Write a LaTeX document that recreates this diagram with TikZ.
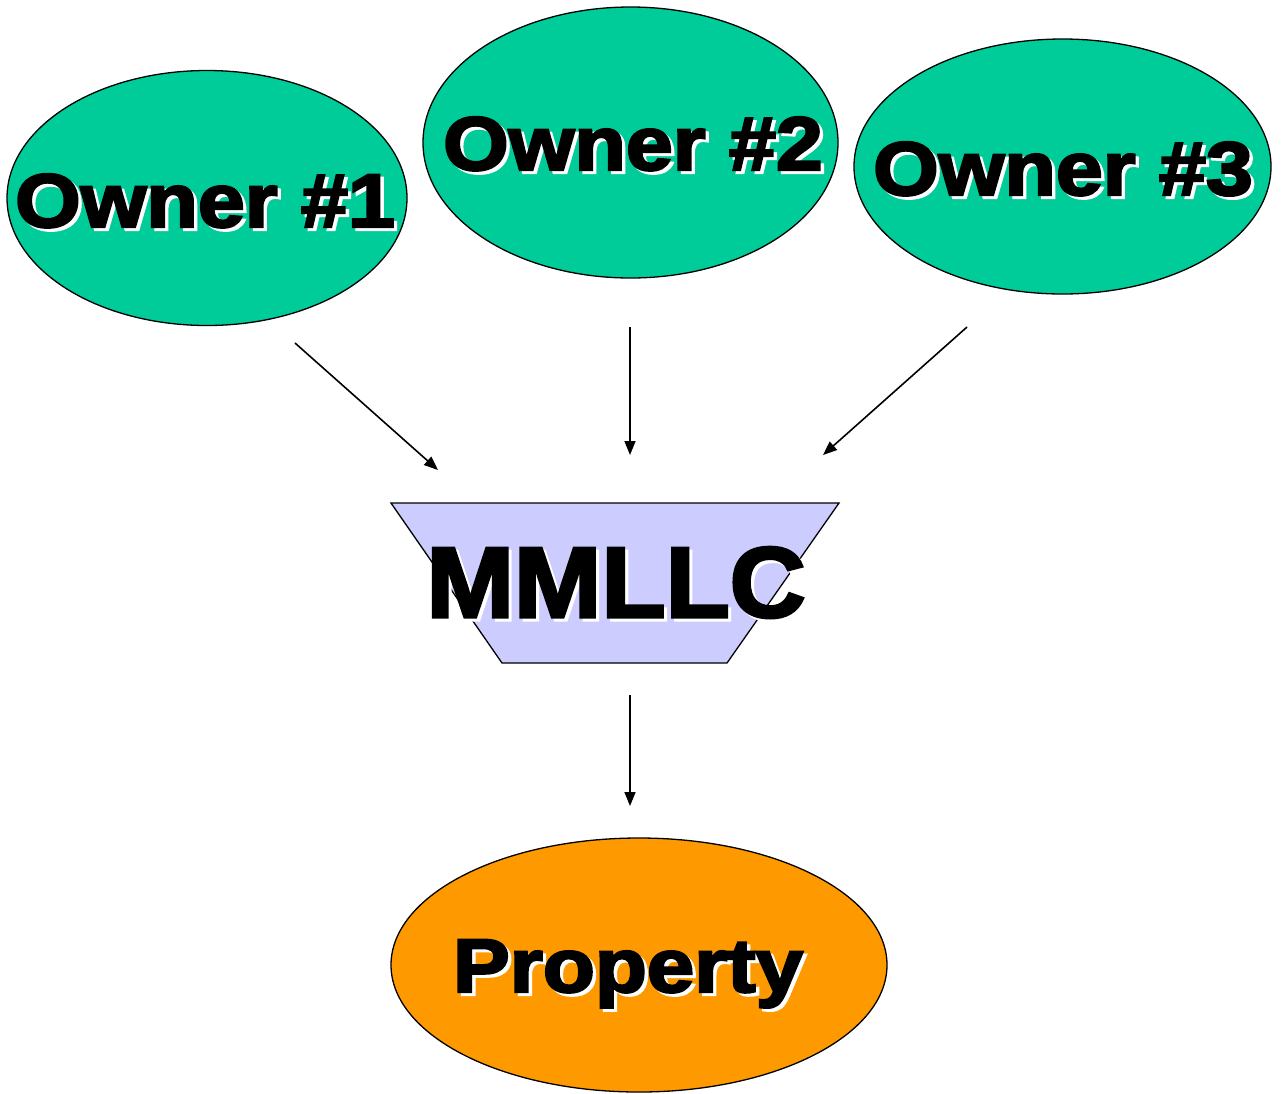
\documentclass[tikz,border=0pt]{standalone}
\usepackage{fontspec}
\setmainfont{Liberation Sans}[BoldFeatures={FakeBold=3}]
\usetikzlibrary{shapes.geometric,arrows.meta}
\definecolor{ownergreen}{RGB}{0,204,153}
\definecolor{llcblue}{RGB}{204,204,255}
\definecolor{proporange}{RGB}{255,153,0}
\tikzset{
  x=1pt, y=-1pt,
  blob/.style={ellipse, draw=black, line width=1.3pt, inner sep=0pt},
  link/.style={line width=1.6pt, -{Triangle[length=14pt,width=11pt]}},
  label text/.style={inner sep=0pt, anchor=base, font=\bfseries},
}
% heavy, slightly widened lettering with a white drop shadow
\newcommand\heavytext[3]{%
  \scalebox{#2}[1]{\fontsize{#1}{#1}\selectfont
    \rlap{\kern3pt\raisebox{-3pt}{\color{white}#3}}%
    #3}}
\begin{document}
\begin{tikzpicture}
\useasboundingbox (0,0) rectangle (1281,1093);

% owners
\node[blob, fill=ownergreen, minimum width=400, minimum height=255] (o1) at (207,198) {};
\node[blob, fill=ownergreen, minimum width=415, minimum height=271] (o2) at (630.5,142.5) {};
\node[blob, fill=ownergreen, minimum width=417, minimum height=255] (o3) at (1062.5,166.5) {};

% the company
\draw[fill=llcblue, line width=1.3pt] (391,503) -- (839,503) -- (727,663) -- (502,663) -- cycle;

% property
\node[blob, fill=proporange, minimum width=496, minimum height=254] (prop) at (639,965) {};

% labels
\node[label text] (l1) at (205,227) {\heavytext{76}{1.11}{Owner \#1}};
\node[label text] (l2) at (633,170) {\heavytext{76}{1.11}{Owner \#2}};
\node[label text] (l3) at (1063,195) {\heavytext{76}{1.11}{Owner \#3}};
\node[label text] (l4) at (616,617) {\heavytext{100}{1.05}{MMLLC}};
\node[label text] (l5) at (628,992) {\heavytext{76}{1.12}{Property}};

% connectors
\coordinate (a1s) at (295,343); \coordinate (a1e) at (438,470);
\coordinate (a2s) at (630,327); \coordinate (a2e) at (630,455);
\coordinate (a3s) at (967,327); \coordinate (a3e) at (823,455);
\coordinate (a4s) at (630,695); \coordinate (a4e) at (630,806);
\draw[link] (a1s) -- (a1e);
\draw[link] (a2s) -- (a2e);
\draw[link] (a3s) -- (a3e);
\draw[link] (a4s) -- (a4e);
\end{tikzpicture}
\end{document}
